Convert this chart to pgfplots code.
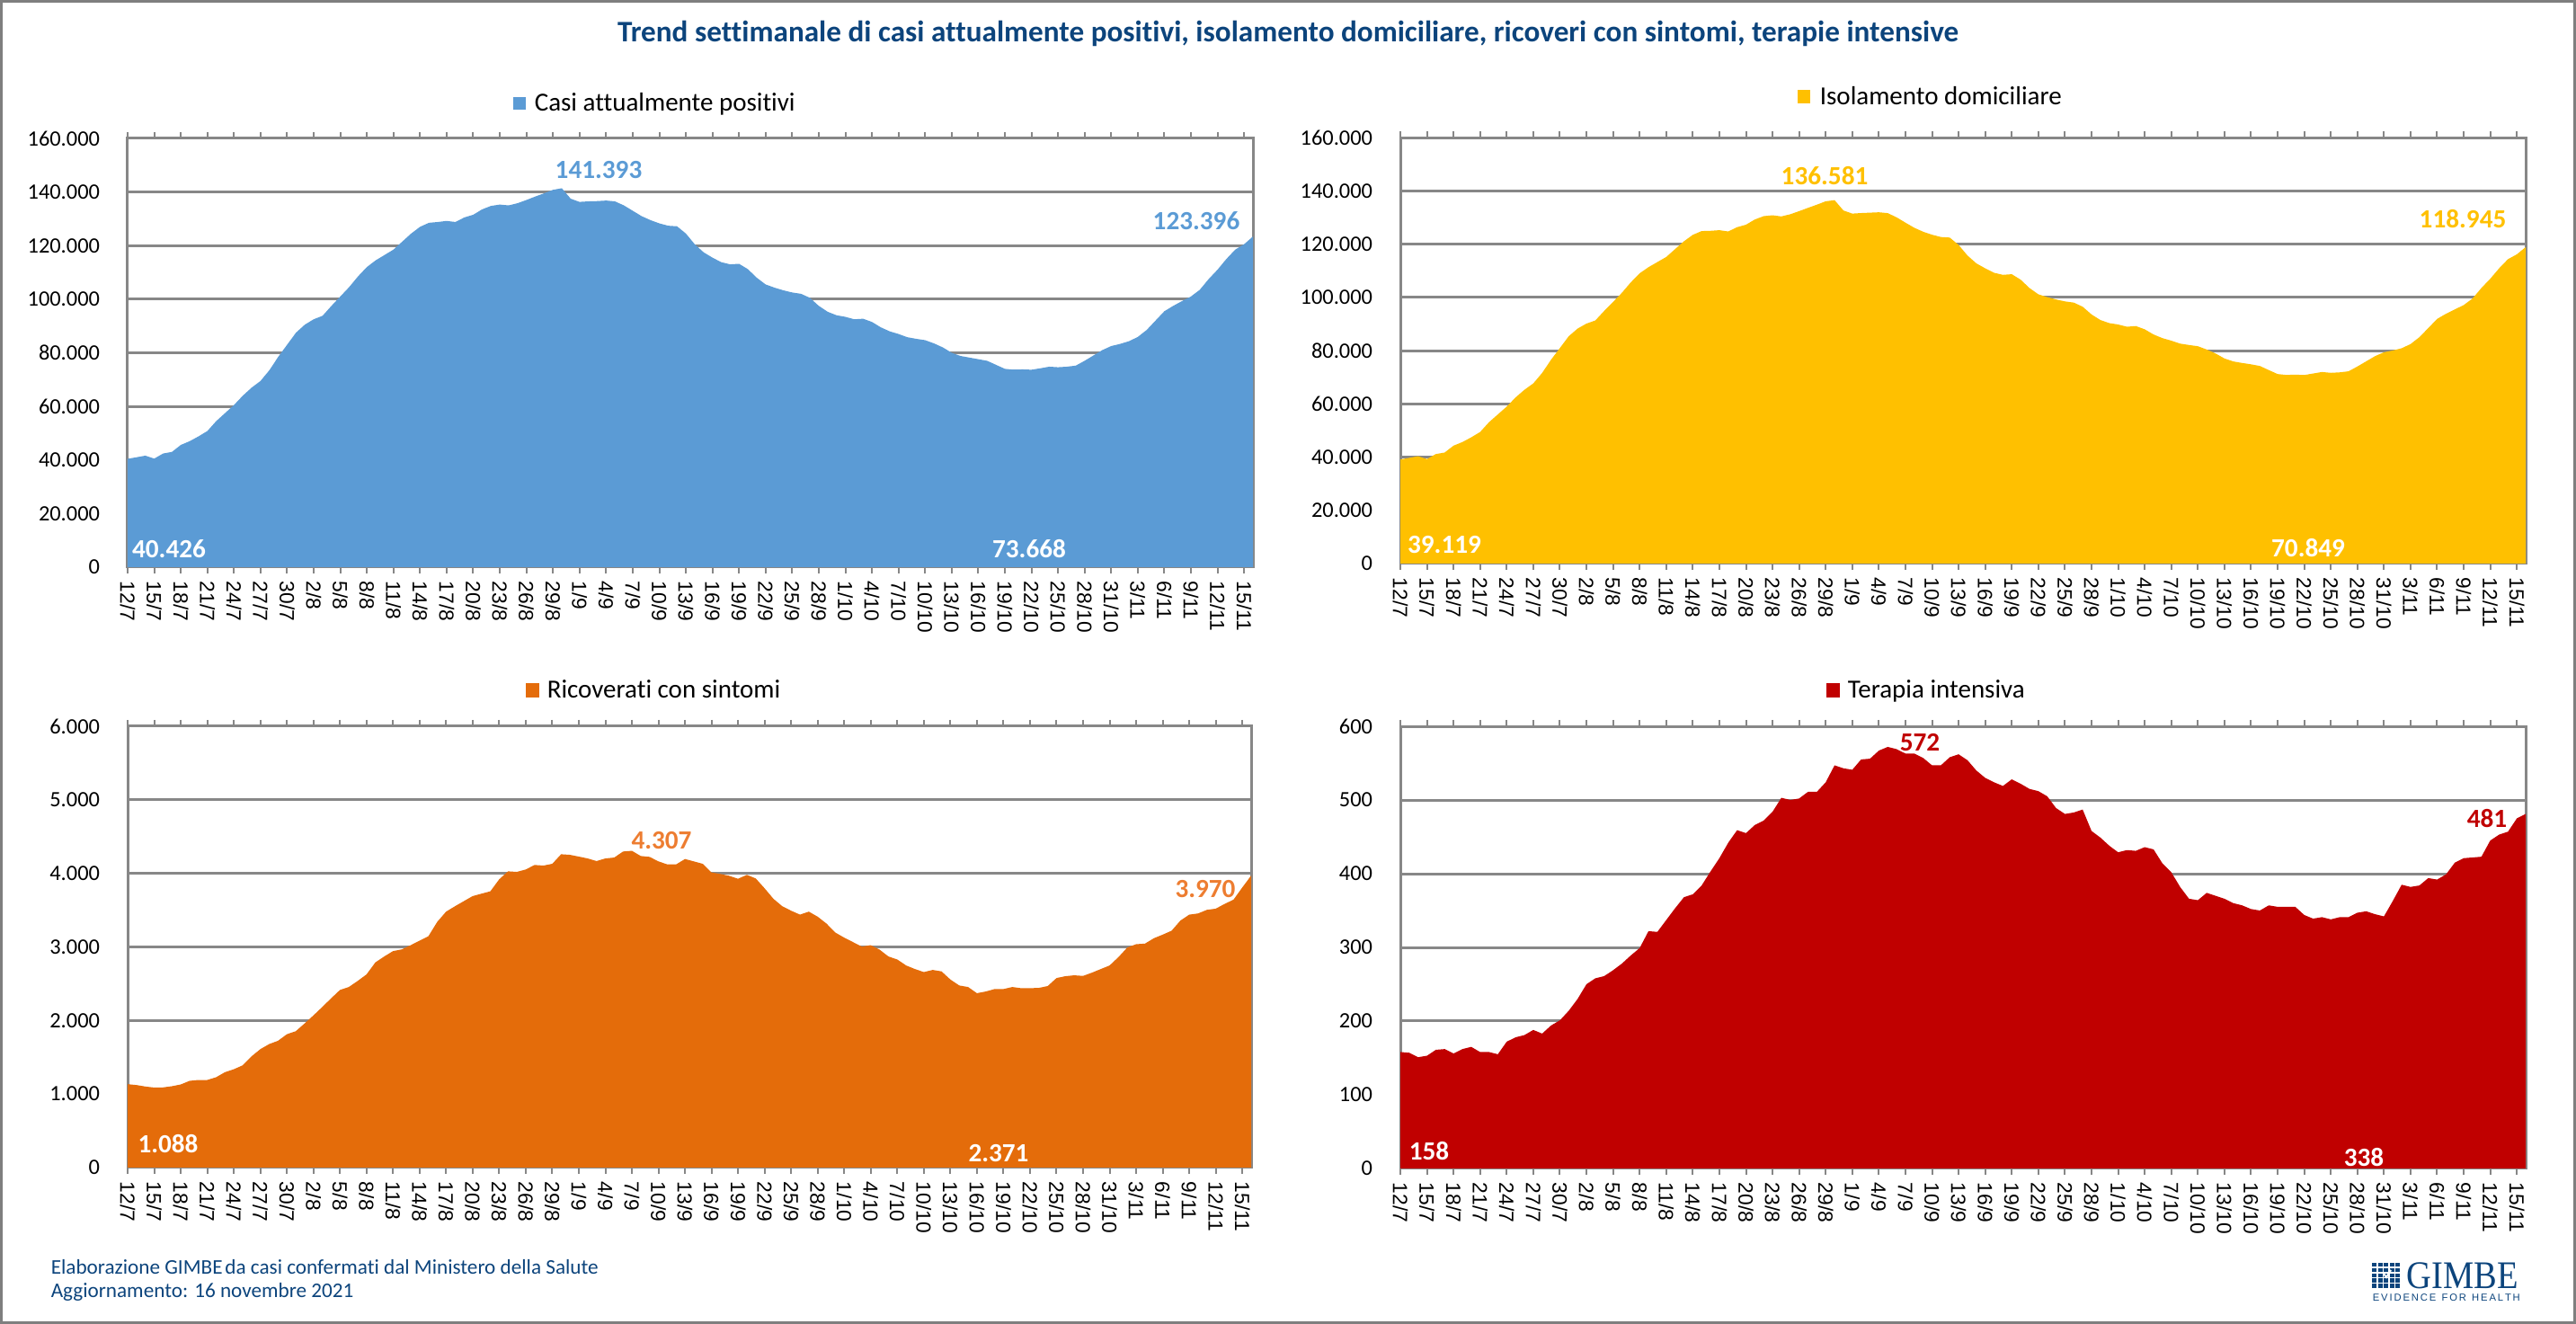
\documentclass[border=0pt]{standalone}
\usepackage{fontspec}
\setmainfont{Carlito}[Ligatures=NoCommon]
\newfontfamily\arialf{Liberation Sans}
\newfontfamily\seriff{Liberation Serif}
\usepackage{graphicx}
\usepackage{pgfplots}
\usepackage{pgfplotstable}
\pgfplotsset{compat=1.18}
\definecolor{cBlue}{HTML}{5B9BD5}
\definecolor{cYel}{HTML}{FFC000}
\definecolor{cOra}{HTML}{E46C0A}
\definecolor{cOraL}{HTML}{ED7D31}
\definecolor{cRed}{HTML}{C00000}
\definecolor{cGrid}{HTML}{878787}
\definecolor{cFrame}{HTML}{7F7F7F}
\definecolor{cTitle}{RGB}{12,68,124}

\pgfplotstableread{
d casi iso ric ti
0 40426 39119 1134 158
1 41000 39720 1122 157
2 41600 40350 1102 151
3 40500 39260 1088 153
4 42400 41150 1090 161
5 43000 41730 1106 162
6 45600 44310 1130 156
7 47000 45660 1179 162
8 48800 47440 1191 165
9 50800 49450 1191 158
10 54500 53110 1228 158
11 57500 56050 1297 155
12 60500 58990 1337 172
13 64000 62430 1390 178
14 67000 65310 1512 181
15 69500 67700 1610 188
16 73500 71640 1679 183
17 78500 76580 1724 194
18 83000 80990 1813 201
19 87500 85430 1854 214
20 90500 88310 1959 230
21 92500 90180 2069 250
22 93800 91360 2183 258
23 97500 94940 2301 261
24 101000 98320 2415 269
25 104500 101770 2455 278
26 108500 105670 2537 289
27 112000 109080 2626 299
28 114500 111390 2789 322
29 116500 113310 2870 321
30 118500 115220 2943 337
31 121500 118180 2967 353
32 124500 121110 3024 368
33 127000 123540 3085 372
34 128500 124970 3146 384
35 128800 125060 3341 403
36 129200 125300 3480 421
37 128800 124810 3553 442
38 130500 126420 3622 459
39 131500 127350 3691 455
40 133500 129310 3724 466
41 134800 130570 3756 472
42 135300 130900 3919 484
43 135000 130470 4028 503
44 135800 131280 4020 500
45 137000 132450 4053 502
46 138300 133680 4114 511
47 139500 134880 4106 511
48 140800 136150 4130 524
49 141393 136581 4260 547
50 137500 132710 4252 543
51 136300 131530 4228 541
52 136500 131740 4203 555
53 136600 131880 4167 556
54 136800 132030 4203 567
55 136500 131710 4215 572
56 135000 130130 4297 569
57 133000 128130 4307 563
58 131000 126200 4236 563
59 129500 124720 4224 557
60 128300 123590 4163 547
61 127400 122730 4122 547
62 127200 122520 4122 558
63 124500 119740 4195 562
64 120500 115780 4163 554
65 117500 112830 4130 540
66 115500 110960 4012 530
67 113800 109280 3992 524
68 113000 108510 3967 519
69 113200 108750 3927 528
70 111200 106700 3980 522
71 108000 103550 3931 515
72 105500 101190 3797 512
73 104300 100140 3654 505
74 103300 99260 3553 489
75 102500 98530 3492 481
76 102000 98080 3439 483
77 100500 96530 3480 487
78 97500 93630 3411 458
79 95300 91530 3317 449
80 94000 90370 3195 438
81 93400 89850 3126 429
82 92500 89000 3065 432
83 92700 89270 3004 431
84 91500 88040 3024 436
85 89500 86100 2963 433
86 88000 84720 2870 414
87 87000 83770 2829 402
88 85800 82670 2748 382
89 85200 82140 2699 366
90 84700 81680 2658 364
91 83500 80440 2687 374
92 82000 78960 2667 370
93 80000 77080 2557 366
94 78800 75960 2476 360
95 78200 75390 2455 357
96 77600 74880 2371 352
97 77000 74260 2394 350
98 75500 72720 2427 357
99 74000 71220 2427 355
100 73700 70890 2455 355
101 73800 71010 2439 355
102 73668 70849 2439 344
103 74200 71420 2443 339
104 74800 71990 2468 341
105 74600 71690 2577 338
106 74800 71860 2602 341
107 75200 72250 2614 341
108 77000 74050 2606 347
109 79000 76000 2650 349
110 81000 77960 2699 345
111 82500 79410 2748 342
112 83300 80080 2862 363
113 84300 80920 2992 385
114 85900 82480 3037 382
115 88500 85070 3045 384
116 92000 88490 3118 394
117 95500 91940 3167 392
118 97500 93880 3220 399
119 99300 95530 3358 415
120 101000 97140 3439 421
121 103500 99620 3455 422
122 107500 103570 3504 423
123 111000 107040 3520 445
124 115000 110960 3585 453
125 118500 114400 3642 457
126 120500 116220 3809 475
127 123396 118945 3970 481
}\data

\pgfplotsset{
  gimbe/.style={
    scale only axis, anchor=south west,
    xmin=0, xmax=127, ymin=0,
    xtick={0,3,...,126},
    xticklabels={12/7,15/7,18/7,21/7,24/7,27/7,30/7,2/8,5/8,8/8,11/8,14/8,17/8,20/8,23/8,26/8,29/8,1/9,4/9,7/9,10/9,13/9,16/9,19/9,22/9,25/9,28/9,1/10,4/10,7/10,10/10,13/10,16/10,19/10,22/10,25/10,28/10,31/10,3/11,6/11,9/11,12/11,15/11},
    axis line style={cGrid, line width=0.75pt},
    ymajorgrids, grid style={cGrid, line width=0.75pt},
    tick align=outside, major tick length=1.8pt,
    xtick style={cGrid, line width=0.5pt},
    ytick style={draw=none},
    xticklabel style={font=\arialf\fontsize{5.7}{6}\selectfont, rotate=-90, anchor=west, inner sep=0pt},
    xticklabel shift=2pt,
    yticklabel style={font=\fontsize{6.1}{7}\selectfont, anchor=east, inner sep=0pt},
    yticklabel shift=5.75pt,
    scaled y ticks=false,
    yticklabel={\pgfmathprintnumber[assume math mode=true,1000 sep={.},fixed,precision=0]{\tick}},
  }
}

\begin{document}
\begin{tikzpicture}
\useasboundingbox (0,0) rectangle (716.5pt,368.25pt);

\begin{axis}[gimbe, at={(35.5pt,210.5pt)}, width=313pt, height=119.25pt,
  ymax=160000, ytick={0,20000,...,160000}]
\addplot[draw=none, fill=cBlue] table[x=d,y=casi]{\data} \closedcycle;
\end{axis}

\begin{axis}[gimbe, at={(389.5pt,211.5pt)}, width=313pt, height=118.4pt,
  ymax=160000, ytick={0,20000,...,160000}]
\addplot[draw=none, fill=cYel] table[x=d,y=iso]{\data} \closedcycle;
\end{axis}

\begin{axis}[gimbe, at={(35.5pt,43.5pt)}, width=312.5pt, height=122.75pt,
  ymax=6000, ytick={0,1000,...,6000}]
\addplot[draw=none, fill=cOra] table[x=d,y=ric]{\data} \closedcycle;
\end{axis}

\begin{axis}[gimbe, at={(389.5pt,43.25pt)}, width=313pt, height=123pt,
  ymax=600, ytick={0,100,...,600}]
\addplot[draw=none, fill=cRed] table[x=d,y=ti]{\data} \closedcycle;
\end{axis}

\begin{scope}[x=0.25pt, y=-0.25pt, yshift=368.25pt]
  % frame
  \draw[cFrame, line width=0.8pt] (1.6,1.6) rectangle (2864.4,1471.4);
  % title
  \node[text=cTitle, font=\bfseries\fontsize{8.3}{10}\selectfont] at (1433,37)
    {Trend settimanale di casi attualmente positivi, isolamento domiciliare, ricoveri con sintomi, terapie intensive};
  % legends
  \fill[cBlue] (571,108) rectangle (585,122);
  \node[anchor=base west, inner sep=0pt, font=\fontsize{7.25}{8.7}\selectfont] at (594,124) {Casi attualmente positivi};
  \fill[cYel] (2000,100) rectangle (2014,115);
  \node[anchor=base west, inner sep=0pt, font=\fontsize{7.25}{8.7}\selectfont] at (2024,117) {Isolamento domiciliare};
  \fill[cOra] (585,760) rectangle (600,776);
  \node[anchor=base west, inner sep=0pt, font=\fontsize{7.25}{8.7}\selectfont] at (608,777) {Ricoverati con sintomi};
  \fill[cRed] (2032,760) rectangle (2047,776);
  \node[anchor=base west, inner sep=0pt, font=\fontsize{7.25}{8.7}\selectfont] at (2055,777) {Terapia intensiva};
  % data labels
  \begin{scope}[every node/.style={font=\bfseries\fontsize{7.3}{8}\selectfont, inner sep=0pt}]
    \node[text=white] at (188,611) {40.426};
    \node[text=white] at (1145,611) {73.668};
    \node[text=cBlue] at (666,189) {141.393};
    \node[text=cBlue] at (1331,246) {123.396};
    \node[text=white] at (1607,606) {39.119};
    \node[text=white] at (2568,610) {70.849};
    \node[text=cYel] at (2030,196) {136.581};
    \node[text=cYel] at (2740,244) {118.945};
    \node[text=white] at (187,1273) {1.088};
    \node[text=white] at (1111,1283) {2.371};
    \node[text=cOraL] at (736,935) {4.307};
    \node[text=cOraL] at (1341,989) {3.970};
    \node[text=white] at (1590,1281) {158};
    \node[text=white] at (2630,1288) {338};
    \node[text=cRed] at (2136,826) {572};
    \node[text=cRed] at (2767,911) {481};
  \end{scope}
  % footer
  \node[anchor=base west, inner sep=0pt, text=cTitle, font=\fontsize{5.8}{7}\selectfont] at (56,1418)
    {Elaborazione GIMBE\kern0.12em da casi confermati dal Ministero della Salute};
  \node[anchor=base west, inner sep=0pt, text=cTitle, font=\fontsize{5.8}{7}\selectfont] at (56,1444)
    {Aggiornamento: 16 novembre 2021};
  % logo
  \foreach \i in {0,...,4}{\foreach \j in {0,...,4}{
    \fill[cTitle] ({2639+\i*6.6},{1405+\j*5.8}) rectangle ++(5,4.4);}}
  \draw[white, line width=0.5pt] (2652,1417) -- (2655,1421) -- (2660,1413);
  \node[anchor=base west, inner sep=0pt, text=cTitle] at (2677,1434)
    {\resizebox{31pt}{7.2pt}{\seriff GIMBE}};
  \node[anchor=base west, inner sep=0pt, text=cTitle] at (2639,1448)
    {\resizebox{41pt}{!}{\arialf\fontsize{3}{3.5}\selectfont E\,V\,I\,D\,E\,N\,C\,E\ \ F\,O\,R\ \ H\,E\,A\,L\,T\,H}};
\end{scope}
\end{tikzpicture}
\end{document}
